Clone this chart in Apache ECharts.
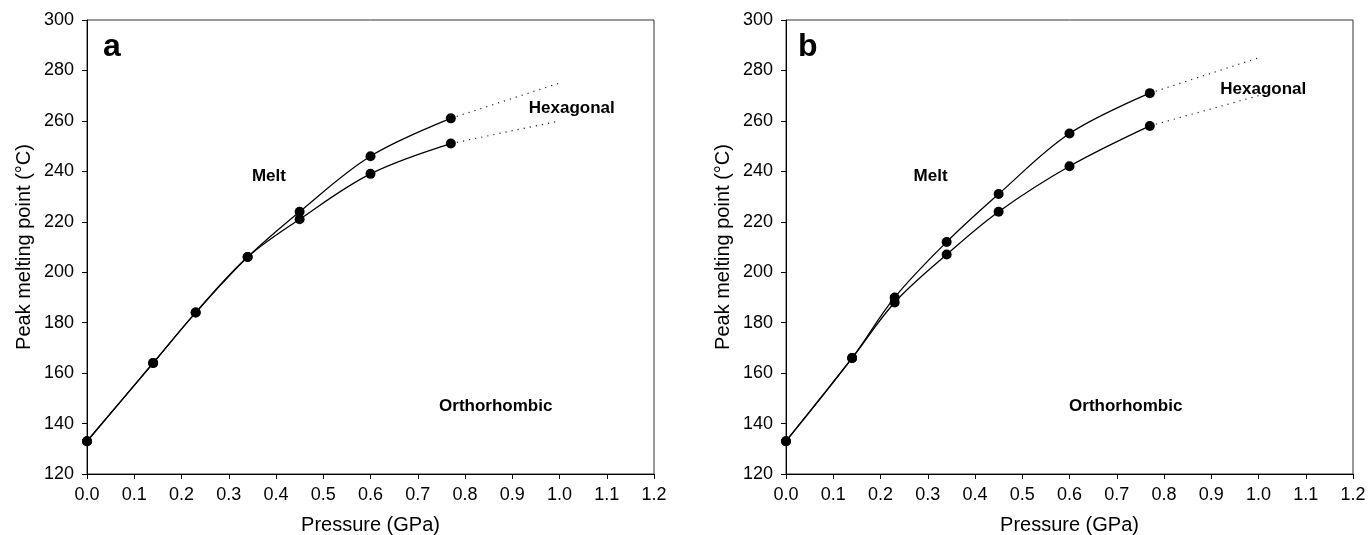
<!DOCTYPE html>
<html><head><meta charset="utf-8">
<script src="https://cdn.jsdelivr.net/npm/echarts@6/dist/echarts.min.js"></script>
<style>html,body{margin:0;padding:0;background:#fff}#c{width:1368px;height:535px}</style>
</head><body><div id="c"></div>
<script>
// Panel a
const pressureA = [0.0, 0.14, 0.23, 0.34, 0.45, 0.60, 0.77];
const upperA = [133, 164, 184, 206, 224, 246, 261];
const lowerA = [133, 164, 184, 206, 221, 239, 251];
const extPressure = [0.77, 1.0];
const upperExtA = [261, 275];
const lowerExtA = [251, 260];
// Panel b
const pressureB = [0.0, 0.14, 0.23, 0.34, 0.45, 0.60, 0.77];
const upperB = [133, 166, 190, 212, 231, 255, 271];
const lowerB = [133, 166, 188, 207, 224, 242, 258];
const upperExtB = [271, 285];
const lowerExtB = [258, 270];
// Region labels [x, y, text]
const labelsA = [[0.385, 238, 'Melt'], [1.026, 265, 'Hexagonal'], [0.865, 147, 'Orthorhombic']];
const labelsB = [[0.306, 238, 'Melt'], [1.01, 272.5, 'Hexagonal'], [0.719, 147, 'Orthorhombic']];
const xTicks = {min: 0, max: 1.2, interval: 0.1};
const yTicks = {min: 120, max: 300, interval: 20};

const FONT = 'Liberation Sans, Arial, sans-serif';
const zip = (xs, ys) => xs.map((x, i) => [x, ys[i]]);

function xAxis(gi) {
  return {
    type: 'value', gridIndex: gi, min: xTicks.min, max: xTicks.max, interval: xTicks.interval,
    name: 'Pressure (GPa)', nameLocation: 'middle', nameGap: 41,
    nameTextStyle: {fontFamily: FONT, fontSize: 20, color: '#000'},
    axisLine: {show: true, lineStyle: {color: '#000', width: 1}},
    axisTick: {show: true, inside: false, length: 5, lineStyle: {color: '#000'}},
    axisLabel: {fontFamily: FONT, fontSize: 18, color: '#000', margin: 12,
      formatter: v => v.toFixed(1)},
    splitLine: {show: false}
  };
}
function yAxis(gi) {
  return {
    type: 'value', gridIndex: gi, min: yTicks.min, max: yTicks.max, interval: yTicks.interval,
    name: 'Peak melting point (°C)', nameLocation: 'middle', nameGap: 53,
    nameTextStyle: {fontFamily: FONT, fontSize: 20, color: '#000'},
    axisLine: {show: true, lineStyle: {color: '#000', width: 1}},
    axisTick: {show: true, inside: false, length: 5, lineStyle: {color: '#000'}},
    axisLabel: {fontFamily: FONT, fontSize: 18, color: '#000', margin: 13},
    splitLine: {show: false}
  };
}
function curve(gi, xs, ys) {
  return {type: 'line', xAxisIndex: gi, yAxisIndex: gi, data: zip(xs, ys), smooth: 0.35,
    symbol: 'circle', symbolSize: 10, itemStyle: {color: '#000', opacity: 1},
    lineStyle: {color: '#000', width: 1.3}, z: 3, silent: true};
}
function ext(gi, ys) {
  return {type: 'line', xAxisIndex: gi, yAxisIndex: gi, data: zip(extPressure, ys),
    symbol: 'none', lineStyle: {color: '#222', width: 1.2, type: [1.2, 5]}, z: 2, silent: true};
}
function labels(gi, arr) {
  return {type: 'scatter', xAxisIndex: gi, yAxisIndex: gi, symbolSize: 0, silent: true,
    itemStyle: {opacity: 1, color: '#000'},
    data: arr.map(d => ({value: [d[0], d[1]], name: d[2]})),
    label: {show: true, position: 'inside', formatter: p => p.name, opacity: 1,
      fontFamily: FONT, fontSize: 17, fontWeight: 'bold', color: '#000', textBorderWidth: 0}};
}

const chart = echarts.init(document.getElementById('c'), null, {renderer: 'canvas'});
chart.setOption({
  animation: false,
  backgroundColor: '#fff',
  grid: [
    {left: 87, top: 20, width: 567, height: 454, show: true, borderColor: '#333', borderWidth: 1, outerBoundsMode: 'none', containLabel: false},
    {left: 786, top: 20, width: 567, height: 454, show: true, borderColor: '#333', borderWidth: 1, outerBoundsMode: 'none', containLabel: false}
  ],
  xAxis: [xAxis(0), xAxis(1)],
  yAxis: [yAxis(0), yAxis(1)],
  graphic: [
    {type: 'text', left: 103, top: 31, style: {text: 'a', font: 'bold 32px ' + FONT, fill: '#000'}},
    {type: 'text', left: 798, top: 31, style: {text: 'b', font: 'bold 32px ' + FONT, fill: '#000'}}
  ],
  series: [
    curve(0, pressureA, upperA), curve(0, pressureA, lowerA), ext(0, upperExtA), ext(0, lowerExtA), labels(0, labelsA),
    curve(1, pressureB, upperB), curve(1, pressureB, lowerB), ext(1, upperExtB), ext(1, lowerExtB), labels(1, labelsB)
  ]
});
</script></body></html>
